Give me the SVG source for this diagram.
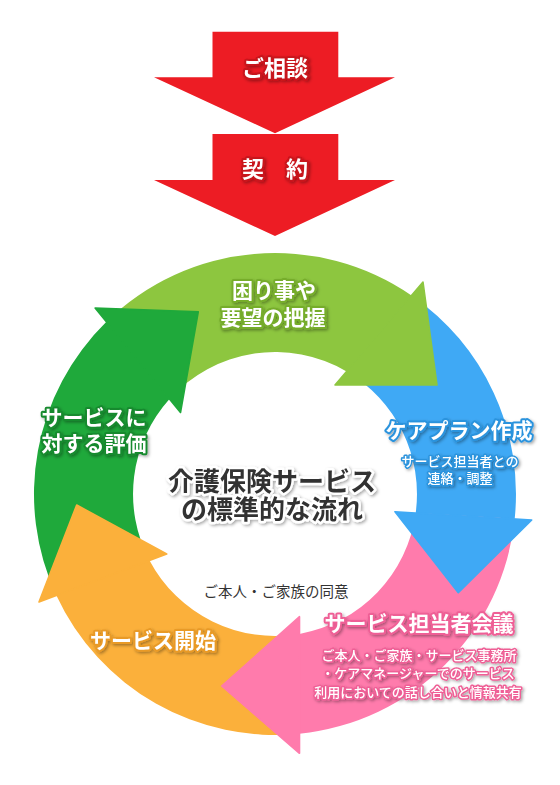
<svg xmlns="http://www.w3.org/2000/svg" width="560" height="785" viewBox="0 0 560 785">
<defs>
<style>
.t{font-family:"Noto Sans CJK JP","Noto Sans",sans-serif;font-weight:700;text-anchor:middle;paint-order:stroke;stroke-linejoin:round}
.w{fill:#fff}
.big{font-size:21px;stroke-width:4px}
.sm{font-size:13px;font-weight:500;stroke-width:3px}
.red{font-size:22px;stroke:#c8141c;stroke-width:4px}
.ctr{font-size:26px;fill:#333;stroke:#fff;stroke-width:5px}
.note{font-family:"Noto Sans CJK JP","Noto Sans",sans-serif;font-size:14.5px;fill:#333;text-anchor:middle}
.hd{stroke-width:1.6px;stroke-linejoin:round}
.lg{fill:#8dc63f;stroke:#8dc63f}
.bl{fill:#3fa9f5;stroke:#3fa9f5}
.pk{fill:#ff7bac;stroke:#ff7bac}
.or{fill:#fbb03b;stroke:#fbb03b}
.dg{fill:#1fa93b;stroke:#1fa93b}
</style>
<filter id="sh" x="-20%" y="-30%" width="140%" height="160%">
<feDropShadow dx="1.5" dy="1.5" stdDeviation="1.5" flood-color="#000" flood-opacity="0.35"/>
</filter>
</defs>
<rect width="560" height="785" fill="#fff"/>

<g id="soudan">
<path d="M212.5 31.7H338.3V77.3H395L275 133.3L154 77.3H212.5Z" fill="#ed1c24"/>
<text class="t w red" x="275" y="75.5" filter="url(#sh)">ご相談</text>
</g>
<g id="keiyaku">
<path d="M212.5 134H338.3V180H395L275 236L154 180H212.5Z" fill="#ed1c24"/>
<text class="t w red" x="275" y="177" filter="url(#sh)">契　約</text>
</g>

<g id="connectors">
<path d="M106.4 321.8A241 241 0 0 1 411.5 295.4L346.6 371.4A142 142 0 0 0 169.5 399Z" fill="#8dc63f"/>
<path d="M411.5 295.4A241 241 0 0 1 514.7 518.8L415.7 513A142 142 0 0 0 346.6 371.4Z" fill="#3fa9f5"/>
<path d="M514.7 518.8A241 241 0 0 1 299.5 733.75L299.5 633.9A142 142 0 0 0 415.7 513Z" fill="#ff7bac"/>
<path d="M299.5 733.75A241 241 0 0 1 56.4 595.5L149.4 560.2A142 142 0 0 0 299.5 633.9Z" fill="#fbb03b"/>
<path d="M56.4 595.5A241 241 0 0 1 106.4 321.8L169.5 399A142 142 0 0 0 149.4 560.2Z" fill="#1fa93b"/>
<path class="hd lg" d="M423 282L437 385L335 385Z"/>
<path class="hd bl" d="M395 511.7L531.7 520L458.3 592.7Z"/>
<path class="hd pk" d="M299.5 616.7L299.5 753.3L221.7 686Z"/>
<path class="hd or" d="M166.7 554L39 602L76.7 505Z"/>
<path class="hd dg" d="M95.1 308L198.3 311.7L180.5 412.5Z"/>
</g>

<g id="haaku">
<text class="t w big" x="274" y="297.5" stroke="#76ad2c" filter="url(#sh)">困り事や</text>
<text class="t w big" x="273" y="325" stroke="#76ad2c" filter="url(#sh)">要望の把握</text>
</g>
<g id="careplan">
<text class="t w big" x="459" y="437.5" stroke="#2b93dd" filter="url(#sh)">ケアプラン作成</text>
<text class="t w sm" x="460" y="465.7" stroke="#2b93dd" filter="url(#sh)">サービス担当者との</text>
<text class="t w sm" x="460" y="482.7" stroke="#2b93dd" filter="url(#sh)">連絡・調整</text>
</g>
<g id="kaigi">
<text class="t w big" x="419" y="630.5" stroke="#ef5f96" filter="url(#sh)">サービス担当者会議</text>
<text class="t w sm" x="419" y="659.7" stroke="#ef5f96" filter="url(#sh)">ご本人・ご家族・サービス事務所</text>
<text class="t w sm" x="418" y="677.7" stroke="#ef5f96" filter="url(#sh)">・ケアマネージャーでのサービス</text>
<text class="t w sm" x="418" y="696.7" stroke="#ef5f96" filter="url(#sh)">利用においての話し合いと情報共有</text>
</g>
<g id="kaishi">
<text class="t w big" x="153" y="647.5" stroke="#e99a26" filter="url(#sh)">サービス開始</text>
</g>
<g id="hyouka">
<text class="t w big" x="94" y="424.5" stroke="#178a2f" filter="url(#sh)">サービスに</text>
<text class="t w big" x="94" y="450.5" stroke="#178a2f" filter="url(#sh)">対する評価</text>
</g>
<g id="center">
<text class="t ctr" x="272" y="491.4" filter="url(#sh)">介護保険サービス</text>
<text class="t ctr" x="272" y="519.4" filter="url(#sh)">の標準的な流れ</text>
<text class="note" x="276" y="597">ご本人・ご家族の同意</text>
</g>
</svg>
